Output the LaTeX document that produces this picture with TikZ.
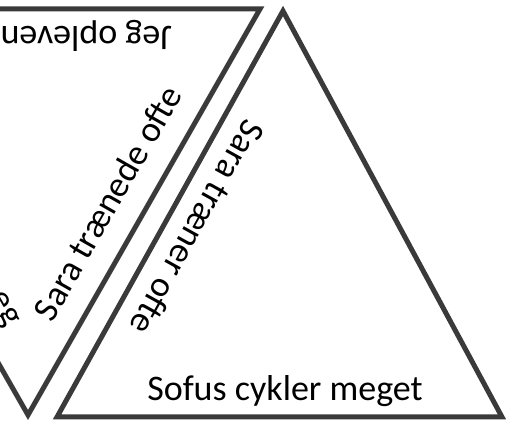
\documentclass[tikz,border=0pt]{standalone}
\usepackage{fontspec}
\setmainfont{Carlito}
\usepackage{tikz}

\definecolor{cardline}{HTML}{3A3A3A}

\begin{document}
\begin{tikzpicture}[x=1pt,y=1pt,
	card/.style={draw=cardline,line width=5pt,line join=miter},
	every node/.style={font=\fontsize{36}{40}\selectfont,inner sep=0pt}]
	\useasboundingbox (0,0) rectangle (506,425);
	\clip (0,0) rectangle (506,425);

	% venstre kort (vendt)
	\coordinate (lt) at (-204,416);
	\coordinate (rt) at (260,416);
	\coordinate (bund) at (28,10);
	\draw[card] (lt) -- (rt) -- (bund) -- cycle;

	% hoejre kort
	\coordinate (top) at (283,414);
	\coordinate (vb) at (57,8);
	\coordinate (hb) at (502,8);
	\draw[card] (top) -- (vb) -- (hb) -- cycle;

	\node[anchor=base west,rotate=180] (jeg) at (172,398) {Jeg oplevende};
	\node[anchor=base,rotate=60.3] (trn) at (118,216) {Sara trænede ofte};
	\node[anchor=base east,rotate=-60.3] (frag) at (6,97) {eg};
	\node[anchor=base,rotate=-119.1] (tr) at (187,203) {Sara træner ofte};
	\node[anchor=base] (sofus) at (285,24) {Sofus cykler meget};

\end{tikzpicture}
\end{document}
